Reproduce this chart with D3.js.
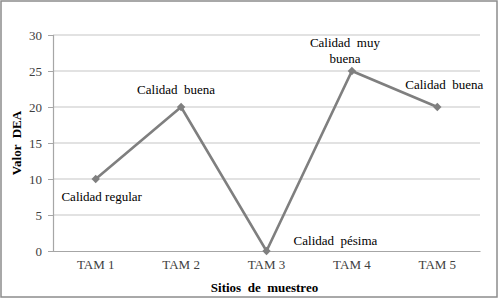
<!DOCTYPE html>
<html>
<head>
<meta charset="utf-8">
<script src="https://cdn.jsdelivr.net/npm/d3@7"></script>
<style>
  html, body { margin: 0; padding: 0; background: #fff; }
  svg, svg text { font-family: "Liberation Serif", "Times New Roman", serif !important; }
</style>
</head>
<body>
<div id="chart"></div>
<script>
// DEA value per sampling site, with the quality label printed next to each point.
const sites = ["TAM 1", "TAM 2", "TAM 3", "TAM 4", "TAM 5"];
const deaValues = [10, 20, 0, 25, 20];
const qualityLabels = [["Calidad regular"], ["Calidad  buena"], ["Calidad  pésima"], ["Calidad  muy", "buena"], ["Calidad  buena"]];
const yTicks = [0, 5, 10, 15, 20, 25, 30];

const width = 498, height = 299;
const m = { top: 35, right: 18, bottom: 48, left: 53 };
const iw = width - m.left - m.right;
const ih = height - m.top - m.bottom;
const serif = "'Liberation Serif', 'Times New Roman', serif";

const svg = d3.select("#chart").append("svg")
  .attr("width", width).attr("height", height).attr("viewBox", `0 0 ${width} ${height}`);

svg.append("rect").attr("x", 1).attr("y", 1).attr("width", width - 2).attr("height", height - 3)
  .attr("fill", "#fff").attr("stroke", "#8c8c8c").attr("stroke-width", 1.5);

const g = svg.append("g").attr("transform", `translate(${m.left},${m.top})`);

const x = d3.scaleBand().domain(sites).range([0, iw]);
const y = d3.scaleLinear().domain([0, 30]).range([ih, 0]);
const cx = (s) => x(s) + x.bandwidth() / 2;

// gridlines
g.append("g").selectAll("line").data(yTicks.filter((t) => t > 0)).join("line")
  .attr("x1", 0).attr("x2", iw).attr("y1", (d) => y(d)).attr("y2", (d) => y(d))
  .attr("stroke", "#d9d9d9").attr("stroke-width", 1.3);

// axes
const yAxis = g.append("g").call(d3.axisLeft(y).tickValues(yTicks).tickSize(5).tickPadding(6));
const xAxis = g.append("g").attr("transform", `translate(0,${ih})`)
  .call(d3.axisBottom(x).tickSize(0).tickPadding(9));
[yAxis, xAxis].forEach((a) => {
  a.attr("font-family", serif);
  a.select(".domain").attr("stroke", "#a6a6a6").attr("stroke-width", 1.2);
  a.selectAll(".tick line").attr("stroke", "#a6a6a6");
  a.selectAll("text").attr("fill", "#404040").attr("font-size", 13);
});

// line + diamond markers
const pts = sites.map((s, i) => ({ site: s, v: deaValues[i], label: qualityLabels[i] }));
g.append("path").datum(pts).attr("fill", "none").attr("stroke", "#7f7f7f").attr("stroke-width", 2.6)
  .attr("d", d3.line().x((p) => cx(p.site)).y((p) => y(p.v)));
g.append("g").selectAll("path").data(pts).join("path")
  .attr("transform", (p) => `translate(${cx(p.site)},${y(p.v)})`)
  .attr("d", d3.symbol(d3.symbolDiamond2, 45))
  .attr("fill", "#7f7f7f");

// quality labels (offsets from each point, in px)
const labelOffsets = [[6, 22], [-5, -13], [69, -6], [-7, -24], [7, -18]];
pts.forEach((p, i) => {
  const lx = cx(p.site) + labelOffsets[i][0];
  const t = g.append("text").attr("text-anchor", "middle").attr("font-size", 13).attr("fill", "#000")
    .attr("font-family", serif).attr("x", lx).attr("y", y(p.v) + labelOffsets[i][1])
    .style("white-space", "pre");
  p.label.forEach((line, j) => {
    t.append("tspan").attr("x", lx).attr("dy", j ? 16 : 0).text(line);
  });
});

// axis titles
svg.append("text").attr("transform", `translate(21,${m.top + ih / 2}) rotate(-90)`)
  .attr("text-anchor", "middle").attr("font-size", 13).attr("font-weight", "bold")
  .attr("font-family", serif).style("white-space", "pre").text("Valor  DEA");
svg.append("text").attr("x", m.left + iw / 2 - 2).attr("y", 292)
  .attr("text-anchor", "middle").attr("font-size", 13).attr("font-weight", "bold")
  .attr("font-family", serif).style("white-space", "pre").text("Sitios  de  muestreo");
</script>
</body>
</html>
